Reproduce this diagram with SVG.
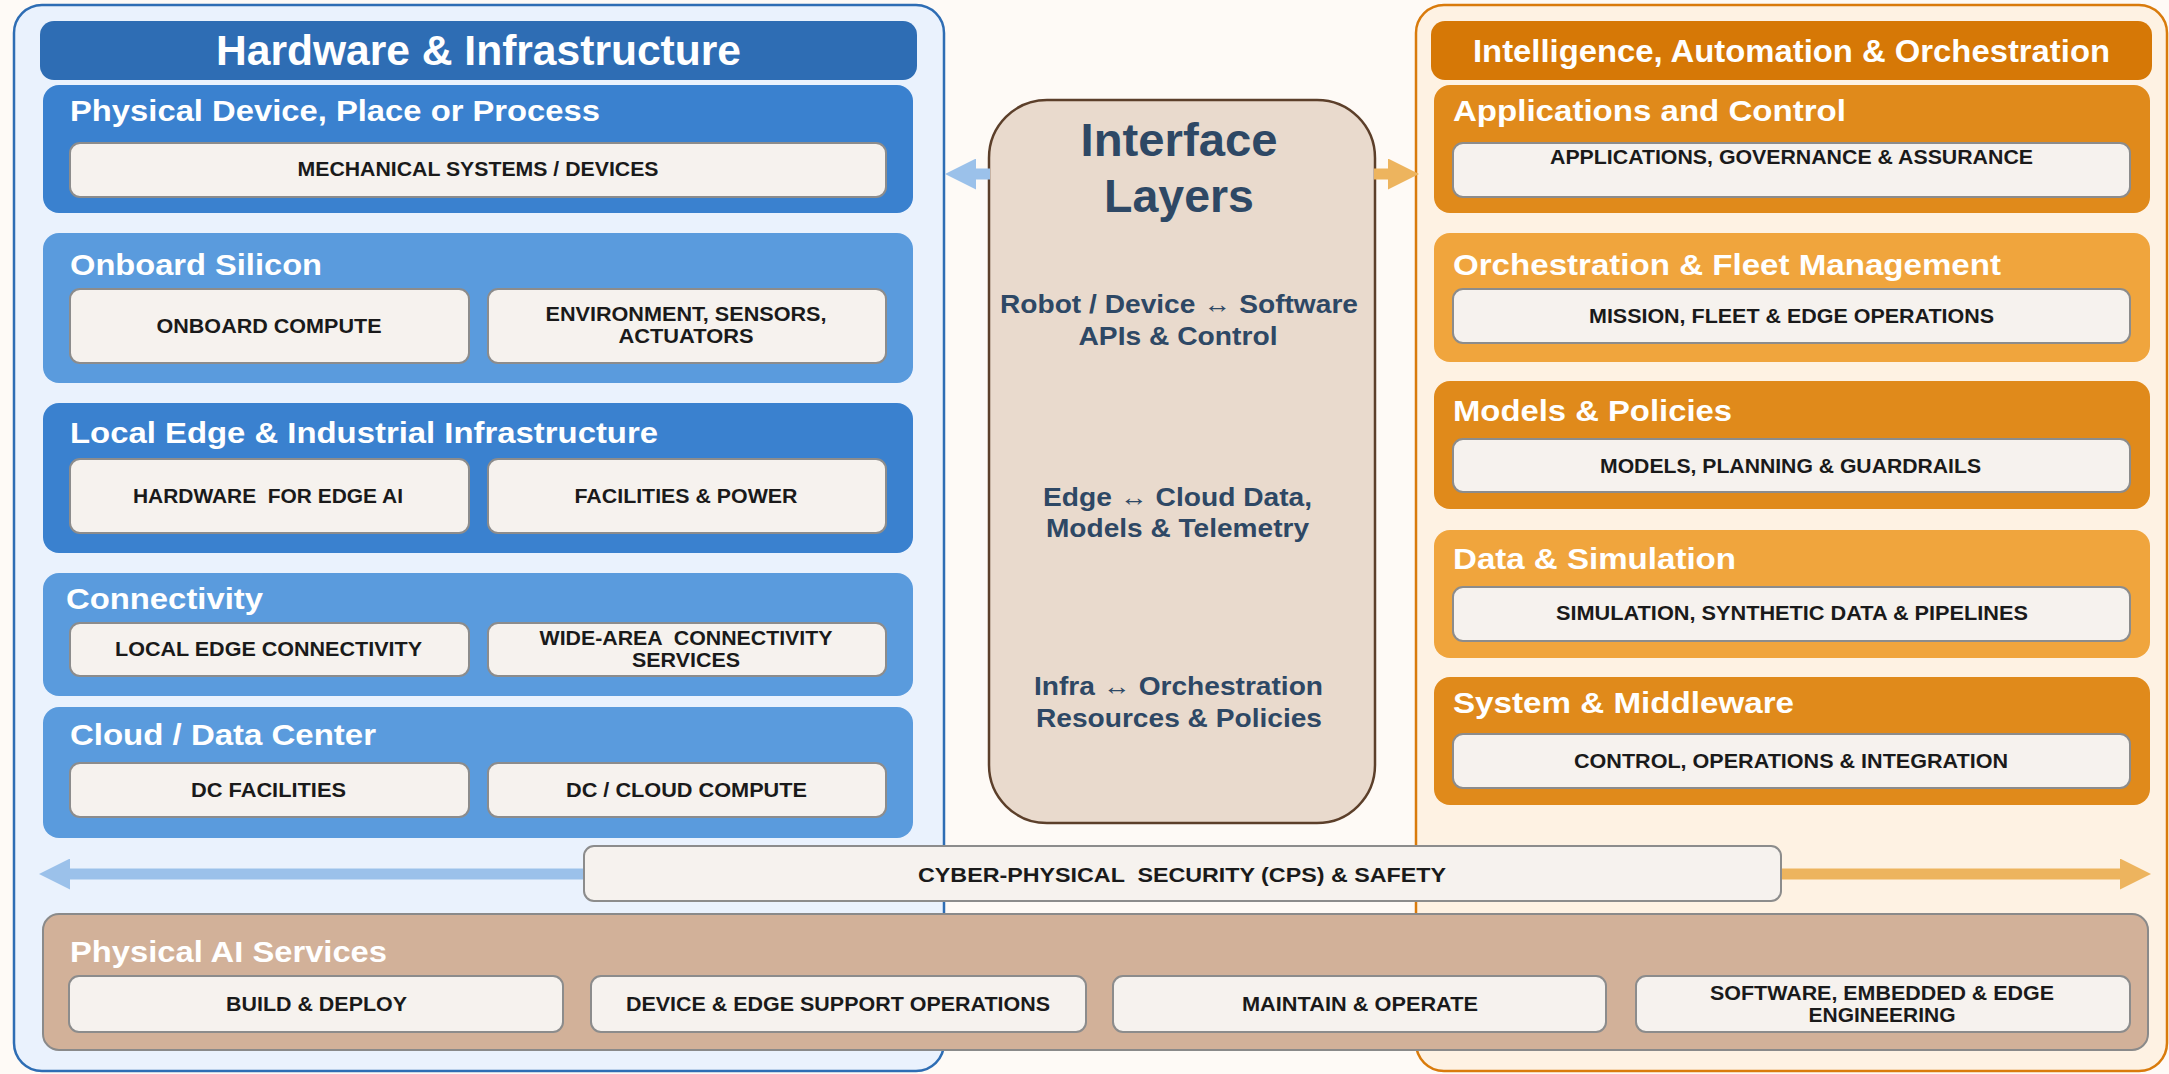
<svg xmlns="http://www.w3.org/2000/svg" width="2169" height="1074" viewBox="0 0 2169 1074">
<defs>
<style>
text{font-family:"Liberation Sans",Arial,sans-serif;font-weight:bold}
.mt{fill:#fff;font-size:42px;text-anchor:middle}
.rt{fill:#fff;font-size:32px;text-anchor:middle}
.st{fill:#fff;font-size:30px}
.bx{fill:#F6F2EE;stroke:#8C8C8C;stroke-width:2}
.bt{fill:#1A1A1A;font-size:20px;text-anchor:middle}
.dk{fill:#3A81CF}
.lb{fill:#5A9BDD}
.do{fill:#E08A1B}
.lo{fill:#F0A53D}
.it{fill:#2E4865;text-anchor:middle;font-size:25px}
</style>
<marker id="hb" markerUnits="userSpaceOnUse" markerWidth="31" markerHeight="31" viewBox="0 0 30 30" refX="0" refY="15" orient="auto"><path d="M0,0 L30,15 L0,30 Z" fill="#9BC1EA"/></marker>
<marker id="ho" markerUnits="userSpaceOnUse" markerWidth="31" markerHeight="31" viewBox="0 0 30 30" refX="0" refY="15" orient="auto"><path d="M0,0 L30,15 L0,30 Z" fill="#EDB45E"/></marker>
</defs>
<rect width="2169" height="1074" fill="#FEFAF6"/>

<g id="hardware-panel">
<rect x="14" y="5" width="930" height="1066" rx="28" fill="#EAF2FD" stroke="#2E6DB4" stroke-width="2.5"/>
<rect x="40" y="21" width="877" height="59" rx="14" fill="#2E6DB4"/>
<text class="mt" x="478.5" y="65" textLength="525" lengthAdjust="spacingAndGlyphs">Hardware &amp; Infrastructure</text>
</g>
<g id="intelligence-panel">
<rect x="1416" y="5" width="751" height="1066" rx="28" fill="#FEF2E3" stroke="#D97B0C" stroke-width="2.5"/>
<rect x="1431" y="21" width="721" height="59" rx="14" fill="#D67806"/>
<text class="rt" x="1791.5" y="62" textLength="637" lengthAdjust="spacingAndGlyphs">Intelligence, Automation &amp; Orchestration</text>
</g>

<g id="physical-device">
<rect class="dk" x="43" y="85" width="870" height="128" rx="16"/>
<text class="st" x="70" y="121" textLength="530" lengthAdjust="spacingAndGlyphs">Physical Device, Place or Process</text>
<rect class="bx" x="70" y="143" width="816" height="54" rx="10"/>
<text class="bt" x="478" y="176" textLength="361" lengthAdjust="spacingAndGlyphs">MECHANICAL SYSTEMS / DEVICES</text>
</g>
<g id="onboard-silicon">
<rect class="lb" x="43" y="233" width="870" height="150" rx="16"/>
<text class="st" x="70" y="275" textLength="252" lengthAdjust="spacingAndGlyphs">Onboard Silicon</text>
<rect class="bx" x="70" y="289" width="399" height="74" rx="10"/>
<text class="bt" x="269" y="333" textLength="225" lengthAdjust="spacingAndGlyphs">ONBOARD COMPUTE</text>
<rect class="bx" x="488" y="289" width="398" height="74" rx="10"/>
<text class="bt" x="686" y="321" textLength="281" lengthAdjust="spacingAndGlyphs">ENVIRONMENT, SENSORS,</text>
<text class="bt" x="686" y="343" textLength="135" lengthAdjust="spacingAndGlyphs">ACTUATORS</text>
</g>
<g id="local-edge">
<rect class="dk" x="43" y="403" width="870" height="150" rx="16"/>
<text class="st" x="70" y="443" textLength="588" lengthAdjust="spacingAndGlyphs">Local Edge &amp; Industrial Infrastructure</text>
<rect class="bx" x="70" y="459" width="399" height="74" rx="10"/>
<text class="bt" x="268" y="503" textLength="270" lengthAdjust="spacingAndGlyphs" xml:space="preserve">HARDWARE  FOR EDGE AI</text>
<rect class="bx" x="488" y="459" width="398" height="74" rx="10"/>
<text class="bt" x="686" y="503" textLength="223" lengthAdjust="spacingAndGlyphs">FACILITIES &amp; POWER</text>
</g>
<g id="connectivity">
<rect class="lb" x="43" y="573" width="870" height="123" rx="16"/>
<text class="st" x="66" y="609" textLength="197" lengthAdjust="spacingAndGlyphs">Connectivity</text>
<rect class="bx" x="70" y="623" width="399" height="53" rx="10"/>
<text class="bt" x="268.5" y="656" textLength="307" lengthAdjust="spacingAndGlyphs">LOCAL EDGE CONNECTIVITY</text>
<rect class="bx" x="488" y="623" width="398" height="53" rx="10"/>
<text class="bt" x="686" y="645" textLength="293" lengthAdjust="spacingAndGlyphs" xml:space="preserve">WIDE-AREA  CONNECTIVITY</text>
<text class="bt" x="686" y="667" textLength="108" lengthAdjust="spacingAndGlyphs">SERVICES</text>
</g>
<g id="cloud-dc">
<rect class="lb" x="43" y="707" width="870" height="131" rx="16"/>
<text class="st" x="70" y="745" textLength="306" lengthAdjust="spacingAndGlyphs">Cloud / Data Center</text>
<rect class="bx" x="70" y="763" width="399" height="54" rx="10"/>
<text class="bt" x="268.5" y="797" textLength="155" lengthAdjust="spacingAndGlyphs">DC FACILITIES</text>
<rect class="bx" x="488" y="763" width="398" height="54" rx="10"/>
<text class="bt" x="686.5" y="797" textLength="241" lengthAdjust="spacingAndGlyphs">DC / CLOUD COMPUTE</text>
</g>

<g id="applications-control">
<rect class="do" x="1434" y="85" width="716" height="128" rx="16"/>
<text class="st" x="1453" y="121" textLength="393" lengthAdjust="spacingAndGlyphs">Applications and Control</text>
<rect class="bx" x="1453" y="143" width="677" height="54" rx="10"/>
<text class="bt" x="1791.5" y="164" textLength="483" lengthAdjust="spacingAndGlyphs">APPLICATIONS, GOVERNANCE &amp; ASSURANCE</text>
</g>
<g id="orchestration-fleet">
<rect class="lo" x="1434" y="233" width="716" height="129" rx="16"/>
<text class="st" x="1453" y="275" textLength="548" lengthAdjust="spacingAndGlyphs">Orchestration &amp; Fleet Management</text>
<rect class="bx" x="1453" y="289" width="677" height="54" rx="10"/>
<text class="bt" x="1791.5" y="323" textLength="405" lengthAdjust="spacingAndGlyphs">MISSION, FLEET &amp; EDGE OPERATIONS</text>
</g>
<g id="models-policies">
<rect class="do" x="1434" y="381" width="716" height="128" rx="16"/>
<text class="st" x="1453" y="421" textLength="279" lengthAdjust="spacingAndGlyphs">Models &amp; Policies</text>
<rect class="bx" x="1453" y="439" width="677" height="53" rx="10"/>
<text class="bt" x="1790.5" y="473" textLength="381" lengthAdjust="spacingAndGlyphs">MODELS, PLANNING &amp; GUARDRAILS</text>
</g>
<g id="data-simulation">
<rect class="lo" x="1434" y="530" width="716" height="128" rx="16"/>
<text class="st" x="1453" y="569" textLength="283" lengthAdjust="spacingAndGlyphs">Data &amp; Simulation</text>
<rect class="bx" x="1453" y="587" width="677" height="54" rx="10"/>
<text class="bt" x="1792" y="620" textLength="472" lengthAdjust="spacingAndGlyphs">SIMULATION, SYNTHETIC DATA &amp; PIPELINES</text>
</g>
<g id="system-middleware">
<rect class="do" x="1434" y="677" width="716" height="128" rx="16"/>
<text class="st" x="1453" y="713" textLength="341" lengthAdjust="spacingAndGlyphs">System &amp; Middleware</text>
<rect class="bx" x="1453" y="734" width="677" height="54" rx="10"/>
<text class="bt" x="1791" y="768" textLength="434" lengthAdjust="spacingAndGlyphs">CONTROL, OPERATIONS &amp; INTEGRATION</text>
</g>

<g id="interface-layers">
<rect x="989" y="100" width="386" height="723" rx="58" fill="#E9DACD" stroke="#5C3F2A" stroke-width="2.5"/>
<text class="it" x="1179" y="156" style="font-size:46px" textLength="197" lengthAdjust="spacingAndGlyphs">Interface</text>
<text class="it" x="1179" y="212" style="font-size:46px" textLength="150" lengthAdjust="spacingAndGlyphs">Layers</text>
<text class="it" x="1179" y="313" textLength="358" lengthAdjust="spacingAndGlyphs">Robot / Device ↔ Software</text>
<text class="it" x="1178" y="345" textLength="199" lengthAdjust="spacingAndGlyphs">APIs &amp; Control</text>
<text class="it" x="1177.5" y="506" textLength="269" lengthAdjust="spacingAndGlyphs">Edge ↔ Cloud Data,</text>
<text class="it" x="1177.5" y="537" textLength="263" lengthAdjust="spacingAndGlyphs">Models &amp; Telemetry</text>
<text class="it" x="1178.5" y="695" textLength="289" lengthAdjust="spacingAndGlyphs">Infra ↔ Orchestration</text>
<text class="it" x="1179" y="727" textLength="286" lengthAdjust="spacingAndGlyphs">Resources &amp; Policies</text>
</g>

<g id="connectors" stroke-width="11" fill="none">
<line x1="990" y1="174" x2="976" y2="174" stroke="#9BC1EA" marker-end="url(#hb)"/>
<line x1="1374" y1="174" x2="1388" y2="174" stroke="#EDB45E" marker-end="url(#ho)"/>
<line x1="590" y1="874" x2="70" y2="874" stroke="#9BC1EA" marker-end="url(#hb)"/>
<line x1="1775" y1="874" x2="2120" y2="874" stroke="#EDB45E" marker-end="url(#ho)"/>
</g>

<g id="cps-safety">
<rect class="bx" x="584" y="846" width="1197" height="55" rx="10"/>
<text class="bt" x="1182" y="882" style="font-size:21px" textLength="528" lengthAdjust="spacingAndGlyphs" xml:space="preserve">CYBER-PHYSICAL  SECURITY (CPS) &amp; SAFETY</text>
</g>

<g id="physical-ai-services">
<rect x="43" y="914" width="2105" height="136" rx="16" fill="#D2B199" stroke="#8A8A8A" stroke-width="2"/>
<text class="st" x="70" y="962" textLength="317" lengthAdjust="spacingAndGlyphs">Physical AI Services</text>
<rect class="bx" x="69" y="976" width="494" height="56" rx="10"/>
<text class="bt" x="316.5" y="1011" textLength="181" lengthAdjust="spacingAndGlyphs">BUILD &amp; DEPLOY</text>
<rect class="bx" x="591" y="976" width="495" height="56" rx="10"/>
<text class="bt" x="838" y="1011" textLength="424" lengthAdjust="spacingAndGlyphs">DEVICE &amp; EDGE SUPPORT OPERATIONS</text>
<rect class="bx" x="1113" y="976" width="493" height="56" rx="10"/>
<text class="bt" x="1360" y="1011" textLength="236" lengthAdjust="spacingAndGlyphs">MAINTAIN &amp; OPERATE</text>
<rect class="bx" x="1636" y="976" width="494" height="56" rx="10"/>
<text class="bt" x="1882" y="1000" textLength="344" lengthAdjust="spacingAndGlyphs">SOFTWARE, EMBEDDED &amp; EDGE</text>
<text class="bt" x="1882" y="1022" textLength="147" lengthAdjust="spacingAndGlyphs">ENGINEERING</text>
</g>
</svg>
